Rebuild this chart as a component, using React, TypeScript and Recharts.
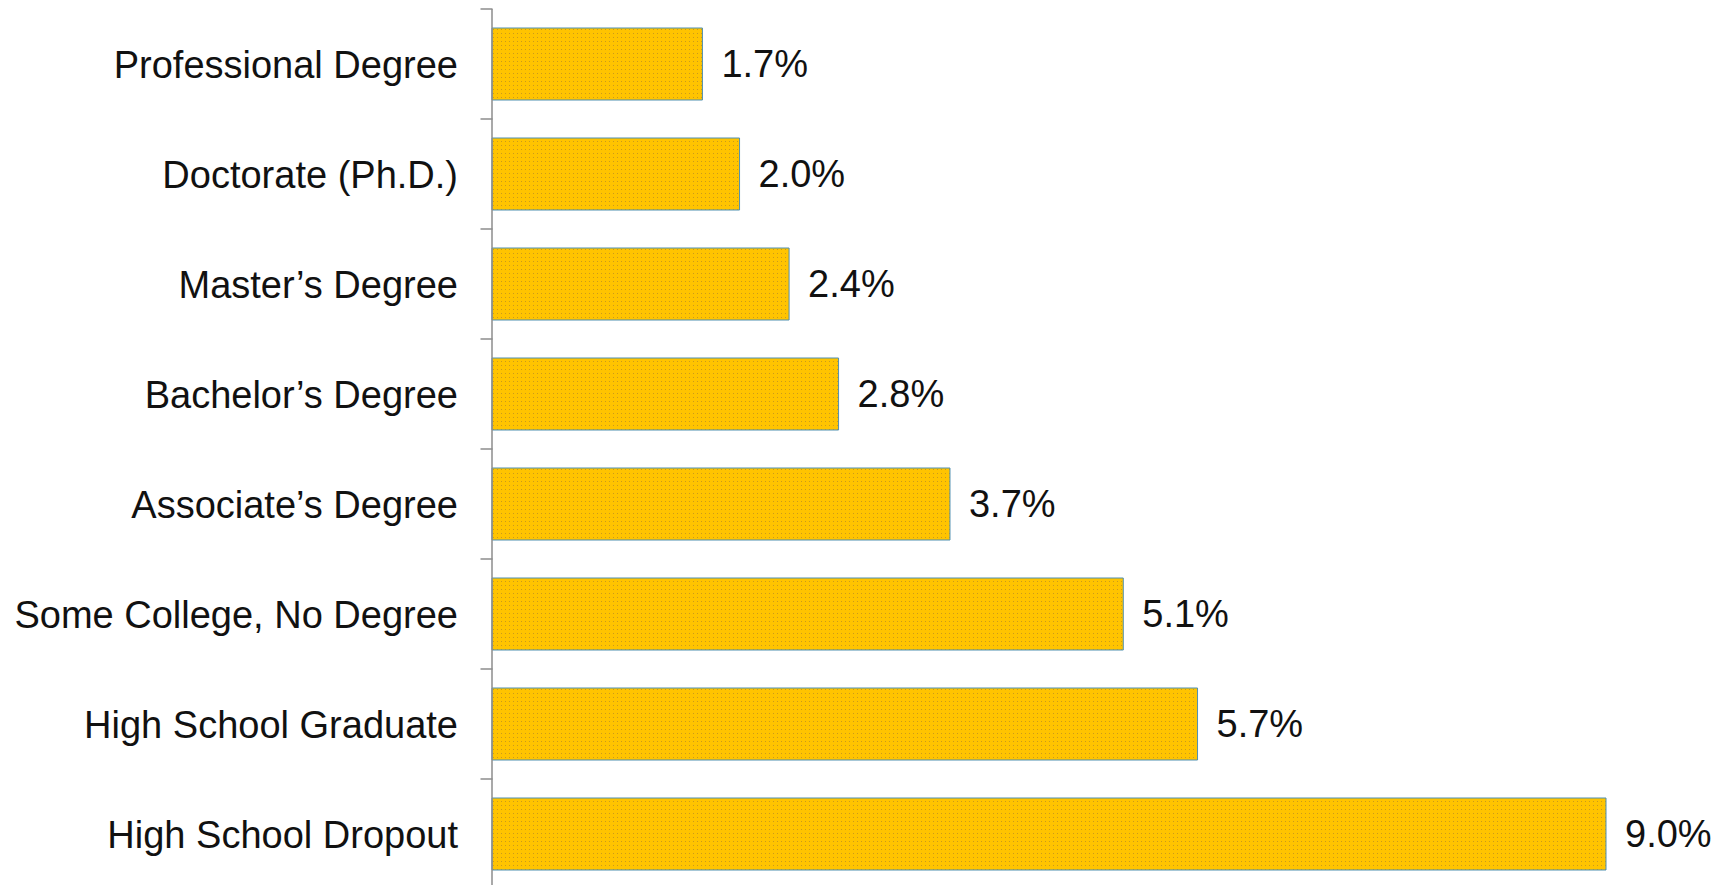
import { BarChart, Bar, XAxis, YAxis, LabelList } from "recharts"

const categories = [
  "Professional Degree",
  "Doctorate (Ph.D.)",
  "Master’s Degree",
  "Bachelor’s Degree",
  "Associate’s Degree",
  "Some College, No Degree",
  "High School Graduate",
  "High School Dropout",
]
const rates = [1.7, 2.0, 2.4, 2.8, 3.7, 5.1, 5.7, 9.0]

const data = categories.map((name, i) => ({ name, rate: rates[i] }))

const W = 1725
const H = 895
const AXIS_W = 492
const TOP = 9
const BOTTOM = 6
const BAND = (H - TOP - BOTTOM) / categories.length
const FONT = "'Liberation Sans', Arial, sans-serif"

function CategoryTick(props: any) {
  const { y, payload, index } = props
  const ax = AXIS_W + 0.5
  return (
    <g>
      <line x1={ax - 12} x2={ax} y1={y - BAND / 2} y2={y - BAND / 2} stroke="#8c8c8c" strokeWidth={1.5} />
      {index === categories.length - 1 && (
        <line x1={ax - 12} x2={ax} y1={y + BAND / 2} y2={y + BAND / 2} stroke="#8c8c8c" strokeWidth={1.5} />
      )}
      <text x={458} y={y} dy="0.36em" textAnchor="end" fontSize={38} fill="#111" fontFamily={FONT}>
        {payload.value}
      </text>
    </g>
  )
}

export default function App() {
  return (
    <div style={{ position: "fixed", left: 0, top: 0, width: W, height: 885, overflow: "hidden", background: "#fff" }}>
      <BarChart
        width={W}
        height={H}
        data={data}
        layout="vertical"
        margin={{ top: TOP, right: 119, bottom: BOTTOM, left: 0 }}
        barCategoryGap={19}
      >
        <defs>
          <pattern id="dots" width="4" height="4" patternUnits="userSpaceOnUse">
            <rect width="4" height="4" fill="#FFC400" />
            <rect x="1" y="1" width="1" height="1" fill="#c99a1c" />
          </pattern>
        </defs>
        <XAxis type="number" domain={[0, 9]} hide />
        <YAxis
          type="category"
          dataKey="name"
          width={AXIS_W}
          axisLine={{ stroke: "#8c8c8c", strokeWidth: 1.5 }}
          tickLine={false}
          tick={<CategoryTick />}
          interval={0}
        />
        <Bar dataKey="rate" fill="url(#dots)" stroke="#4f8fb0" strokeWidth={1} isAnimationActive={false}>
          <LabelList
            dataKey="rate"
            position="right"
            offset={19}
            formatter={(v: any) => `${Number(v).toFixed(1)}%`}
            style={{ fontSize: 38, fill: "#111", fontFamily: FONT }}
          />
        </Bar>
      </BarChart>
    </div>
  )
}
